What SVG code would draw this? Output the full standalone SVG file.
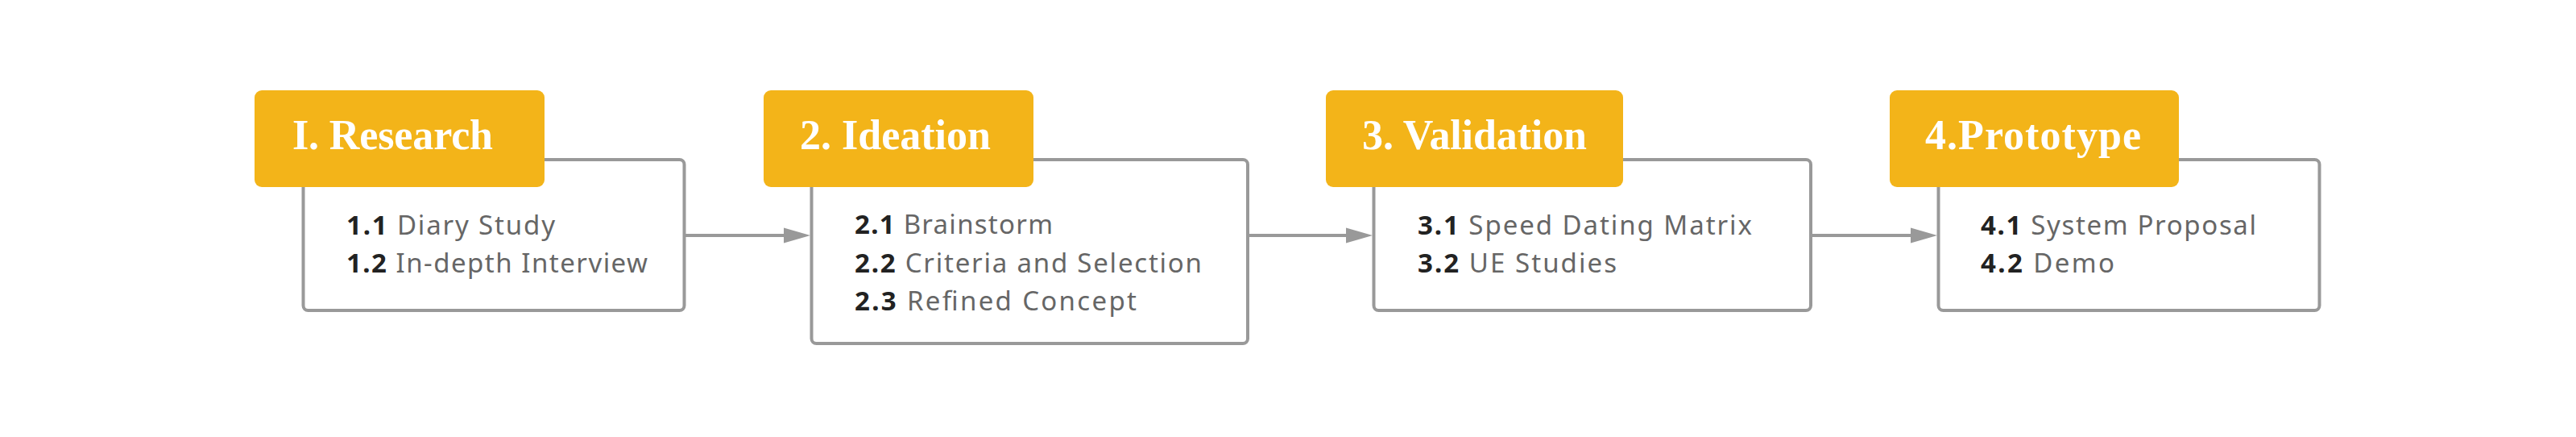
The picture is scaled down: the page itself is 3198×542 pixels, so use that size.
<svg xmlns="http://www.w3.org/2000/svg" width="3198" height="542" viewBox="0 0 3198 542">
<style>
.card{fill:#ffffff;stroke:#999999;stroke-width:4}
.tab{fill:#F3B419}
.title{font-family:"Liberation Serif","DejaVu Serif",serif;font-weight:bold;font-size:52px;fill:#ffffff}
.item{font-family:"Noto Sans","Lato",sans-serif;font-size:33px;fill:#666666}
.num{font-weight:bold;fill:#222222}
.conn{stroke:#999999;stroke-width:4;fill:none}
.head{fill:#999999}
</style>
<rect width="3198" height="542" fill="#ffffff"/>
<g id="connectors">
<line class="conn" x1="850" y1="292" x2="978" y2="292"/>
<polygon class="head" points="1006,292 973,282.5 973,301.5"/>
<line class="conn" x1="1550" y1="292" x2="1676" y2="292"/>
<polygon class="head" points="1704,292 1671,282.5 1671,301.5"/>
<line class="conn" x1="2248" y1="292" x2="2377" y2="292"/>
<polygon class="head" points="2405,292 2372,282.5 2372,301.5"/>
</g>
<g id="node1">
<rect class="card" x="376.5" y="198" width="473" height="187" rx="6"/>
<rect class="tab" x="316" y="112" width="360" height="120" rx="9"/>
<text class="title" x="363" y="185" textLength="249">I. Research</text>
<text class="item" x="430" y="291" textLength="259"><tspan class="num">1.1</tspan> Diary Study</text>
<text class="item" x="430" y="338" textLength="374"><tspan class="num">1.2</tspan> In-depth Interview</text>
</g>
<g id="node2">
<rect class="card" x="1007.5" y="198" width="541.5" height="228" rx="6"/>
<rect class="tab" x="948" y="112" width="335" height="120" rx="9"/>
<text class="title" x="993" y="185" textLength="237">2. Ideation</text>
<text class="item" x="1061" y="290" textLength="246"><tspan class="num">2.1</tspan> Brainstorm</text>
<text class="item" x="1061" y="338" textLength="431"><tspan class="num">2.2</tspan> Criteria and Selection</text>
<text class="item" x="1061" y="385" textLength="350"><tspan class="num">2.3</tspan> Refined Concept</text>
</g>
<g id="node3">
<rect class="card" x="1705.5" y="198" width="542.5" height="187" rx="6"/>
<rect class="tab" x="1646" y="112" width="369" height="120" rx="9"/>
<text class="title" x="1691" y="185" textLength="279">3. Validation</text>
<text class="item" x="1760" y="291" textLength="415"><tspan class="num">3.1</tspan> Speed Dating Matrix</text>
<text class="item" x="1760" y="338" textLength="247"><tspan class="num">3.2</tspan> UE Studies</text>
</g>
<g id="node4">
<rect class="card" x="2406.5" y="198" width="473" height="187" rx="6"/>
<rect class="tab" x="2346" y="112" width="359" height="120" rx="9"/>
<text class="title" x="2390" y="185" textLength="268">4.Prototype</text>
<text class="item" x="2459" y="291" textLength="342"><tspan class="num">4.1</tspan> System Proposal</text>
<text class="item" x="2459" y="338" textLength="166"><tspan class="num">4.2</tspan> Demo</text>
</g>
</svg>
